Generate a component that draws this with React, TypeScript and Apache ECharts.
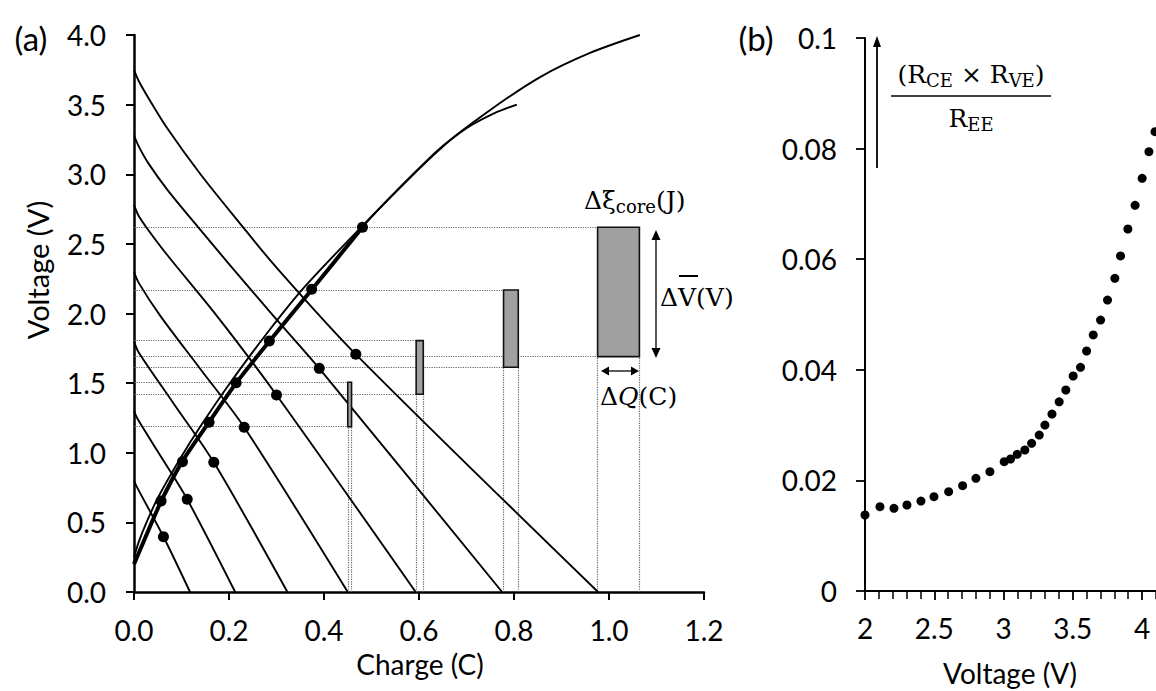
import { useEffect, useRef } from "react";
import * as echarts from "echarts";

// ---------- Panel (a): charge / discharge curves (Charge C, Voltage V) ----------
const discharge1 = [[0, 0.8], [0.006, 0.755], [0.062, 0.397], [0.118, 0]];
const discharge2 = [[0, 1.3], [0.008, 1.24], [0.06, 0.955], [0.112, 0.666], [0.213, 0]];
const discharge3 = [[0, 1.8], [0.01, 1.72], [0.08, 1.37], [0.168, 0.931], [0.323, 0]];
const discharge4 = [[0, 2.3], [0.01, 2.22], [0.055, 1.985], [0.14, 1.6], [0.232, 1.183], [0.45, 0]];
const discharge5 = [[0, 2.78], [0.01, 2.7], [0.03, 2.6], [0.07, 2.42], [0.174, 1.985], [0.3, 1.415], [0.593, 0]];
const discharge6 = [[0, 3.28], [0.01, 3.2], [0.03, 3.08], [0.07, 2.89], [0.135, 2.62], [0.21, 2.315], [0.293, 1.985], [0.39, 1.606], [0.775, 0]];
const discharge7 = [[0, 3.75], [0.01, 3.67], [0.03, 3.55], [0.07, 3.33], [0.14, 3.0], [0.22, 2.66], [0.3, 2.33], [0.467, 1.707], [0.977, 0]];
const dischargeCurves = [discharge1, discharge2, discharge3, discharge4, discharge5, discharge6, discharge7];

// charge curve to 4.0 V (thin)
const chargeTo4 = [[0, 0.25], [0.01, 0.36], [0.027, 0.505], [0.05, 0.675], [0.097, 0.957], [0.14, 1.19], [0.2, 1.49], [0.28, 1.858], [0.36, 2.194], [0.48, 2.626], [0.55, 2.871], [0.644, 3.186], [0.75, 3.462], [0.855, 3.698], [0.96, 3.871], [1.065, 4.0]];
// common (overlapping) charge path, drawn thick
const chargeCommon = [[0, 0.2], [0.02, 0.36], [0.057, 0.65], [0.102, 0.94], [0.158, 1.22], [0.215, 1.5], [0.285, 1.8], [0.374, 2.17], [0.481, 2.62]];
// charge curve to 3.5 V (thin continuation)
const chargeTo35 = [[0, 0.2], [0.02, 0.36], [0.057, 0.65], [0.102, 0.94], [0.158, 1.22], [0.215, 1.5], [0.285, 1.8], [0.374, 2.17], [0.481, 2.62], [0.55, 2.87], [0.644, 3.18], [0.7, 3.33], [0.76, 3.44], [0.806, 3.5]];

const chargeDots = [[0.057, 0.653], [0.102, 0.936], [0.158, 1.219], [0.215, 1.503], [0.285, 1.802], [0.374, 2.174], [0.481, 2.619]];
const dischargeDots = [[0.062, 0.397], [0.112, 0.666], [0.168, 0.931], [0.232, 1.183], [0.3, 1.415], [0.39, 1.606], [0.467, 1.707]];

// energy rectangles: ΔQ from left to right, ΔV from bottom to top
const rectQLeft = [0.45, 0.594, 0.778, 0.976];
const rectQRight = [0.458, 0.609, 0.809, 1.064];
const rectVBottom = [1.187, 1.42, 1.614, 1.69];
const rectVTop = [1.506, 1.805, 2.169, 2.619];

// ---------- Panel (b): (R_CE × R_VE)/R_EE vs Voltage ----------
const voltageB = [2.0, 2.108, 2.209, 2.303, 2.404, 2.498, 2.604, 2.705, 2.801, 2.902, 3.005, 3.051, 3.099, 3.154, 3.203, 3.258, 3.299, 3.35, 3.402, 3.45, 3.503, 3.556, 3.6, 3.648, 3.701, 3.751, 3.804, 3.845, 3.898, 3.95, 4.001, 4.05, 4.094, 4.14];
const ratioB = [0.01374, 0.01525, 0.01495, 0.01555, 0.01627, 0.01705, 0.01796, 0.01905, 0.02037, 0.02158, 0.02338, 0.02387, 0.02472, 0.0255, 0.0267, 0.0282, 0.03, 0.032, 0.0342, 0.03635, 0.03888, 0.04045, 0.0434, 0.0463, 0.049, 0.0526, 0.05655, 0.0606, 0.06546, 0.06974, 0.07463, 0.07944, 0.08306, 0.0875];

const FONT = "Lato";
const SERIF = "DejaVu Serif";

export default function App() {
  const ref = useRef<HTMLDivElement>(null);

  useEffect(() => {
    if (!ref.current) return;
    const chart = echarts.init(ref.current, undefined, { renderer: "svg" });

    const segs: number[][][] = [];
    for (let i = 0; i < rectQLeft.length; i++) {
      segs.push([[0, rectVTop[i]], [rectQLeft[i], rectVTop[i]]]);
      segs.push([[0, rectVBottom[i]], [rectQLeft[i], rectVBottom[i]]]);
      segs.push([[rectQLeft[i], 0], [rectQLeft[i], rectVBottom[i]]]);
      segs.push([[rectQRight[i], 0], [rectQRight[i], rectVBottom[i]]]);
    }

    const axisLabelStyle = { fontFamily: FONT, fontSize: 28, color: "#000" };
    const curveSeries = (data: number[][], width: number) => ({
      type: "line",
      xAxisIndex: 0,
      yAxisIndex: 0,
      data,
      showSymbol: false,
      symbol: "none",
      smooth: 0.3,
      lineStyle: { color: "#000", width },
      silent: true,
      z: 3,
    });
    const dotStyle = { color: "#000", opacity: 1 };
    const sub = { fontFamily: SERIF, fontSize: 18, lineHeight: 18, verticalAlign: "bottom", fill: "#000" };
    const main = { fontFamily: SERIF, fontSize: 25, lineHeight: 30, fill: "#000" };

    const option: any = {
      animation: false,
      backgroundColor: "#fff",
      grid: [
        { left: 134, top: 35, width: 570, height: 557 },
        { left: 865, top: 38, width: 346.25, height: 553 },
      ],
      xAxis: [
        {
          gridIndex: 0, type: "value", min: 0, max: 1.2, interval: 0.2,
          axisLine: { show: true, onZero: false, lineStyle: { color: "#000", width: 2.5 } },
          axisTick: { show: true, length: 8, lineStyle: { color: "#000", width: 2 } },
          axisLabel: { ...axisLabelStyle, margin: 24, formatter: (v: number) => v.toFixed(1) },
          splitLine: { show: false },
        },
        {
          gridIndex: 1, type: "value", min: 2, max: 4.5, interval: 0.5,
          axisLine: { show: true, onZero: false, lineStyle: { color: "#000", width: 2 } },
          axisTick: { show: true, length: 9, lineStyle: { color: "#000", width: 1.8 } },
          minorTick: { show: true, splitNumber: 5, length: 8, lineStyle: { color: "#000", width: 1.5 } },
          axisLabel: { ...axisLabelStyle, margin: 23, formatter: (v: number) => (v > 4.01 ? "" : String(v)) },
          splitLine: { show: false },
        },
      ],
      yAxis: [
        {
          gridIndex: 0, type: "value", min: 0, max: 4, interval: 0.5,
          axisLine: { show: true, onZero: false, lineStyle: { color: "#000", width: 2.5 } },
          axisTick: { show: true, length: 8, lineStyle: { color: "#000", width: 2 } },
          axisLabel: { ...axisLabelStyle, margin: 28, formatter: (v: number) => v.toFixed(1) },
          splitLine: { show: false },
        },
        {
          gridIndex: 1, type: "value", min: 0, max: 0.1, interval: 0.02,
          axisLine: { show: true, onZero: false, lineStyle: { color: "#000", width: 2 } },
          axisTick: { show: true, length: 9, lineStyle: { color: "#000", width: 1.8 } },
          axisLabel: { ...axisLabelStyle, margin: 28 },
          splitLine: { show: false },
        },
      ],
      series: [
        {
          type: "lines",
          coordinateSystem: "cartesian2d",
          xAxisIndex: 0,
          yAxisIndex: 0,
          data: segs.map((s) => ({ coords: s })),
          lineStyle: { color: "#666", width: 1.2, type: "dotted", opacity: 1 },
          silent: true,
          z: 1,
        },
        ...dischargeCurves.map((c) => curveSeries(c, 1.9)),
        curveSeries(chargeTo4, 1.9),
        curveSeries(chargeTo35, 1.9),
        curveSeries(chargeCommon, 4),
        {
          type: "custom",
          xAxisIndex: 0,
          yAxisIndex: 0,
          data: rectQLeft.map((q, i) => [q, rectQRight[i], rectVBottom[i], rectVTop[i]]),
          encode: { x: [0, 1], y: [2, 3] },
          renderItem: (_p: any, api: any) => {
            const a = api.coord([api.value(0), api.value(3)]);
            const b = api.coord([api.value(1), api.value(2)]);
            return {
              type: "rect",
              shape: { x: a[0], y: a[1], width: b[0] - a[0], height: b[1] - a[1] },
              style: { fill: "#a0a0a0", stroke: "#111", lineWidth: 1.6 },
            };
          },
          silent: true,
          z: 4,
        },
        {
          type: "scatter", xAxisIndex: 0, yAxisIndex: 0, data: chargeDots,
          symbol: "circle", symbolSize: 11, itemStyle: dotStyle, silent: true, z: 5,
        },
        {
          type: "scatter", xAxisIndex: 0, yAxisIndex: 0, data: dischargeDots,
          symbol: "circle", symbolSize: 11, itemStyle: dotStyle, silent: true, z: 5,
        },
        {
          type: "scatter", xAxisIndex: 1, yAxisIndex: 1,
          data: voltageB.map((v, i) => [v, ratioB[i]]),
          symbol: "circle", symbolSize: 9, itemStyle: dotStyle, silent: true, z: 5,
        },
      ],
      graphic: [
        { type: "text", x: 31, y: 38, style: { text: "(a)", fontFamily: FONT, fontSize: 33, fill: "#000", align: "center", verticalAlign: "middle" } },
        { type: "text", x: 756, y: 38, style: { text: "(b)", fontFamily: FONT, fontSize: 33, fill: "#000", align: "center", verticalAlign: "middle" } },
        { type: "text", x: 37, y: 270, rotation: Math.PI / 2, style: { text: "Voltage (V)", fontFamily: FONT, fontSize: 29, fill: "#000", align: "center", verticalAlign: "middle" } },
        { type: "text", x: 420, y: 664, style: { text: "Charge (C)", fontFamily: FONT, fontSize: 28, fill: "#000", align: "center", verticalAlign: "middle" } },
        { type: "text", x: 1010, y: 673, style: { text: "Voltage (V)", fontFamily: FONT, fontSize: 28, fill: "#000", align: "center", verticalAlign: "middle" } },
        // Δξcore(J)
        {
          type: "text", x: 584, y: 200,
          style: { text: "{a|Δξ}{s|core}{a|(J)}", align: "left", verticalAlign: "middle", fill: "#000", rich: { a: main, s: sub } },
        },
        // vertical double arrow
        { type: "line", shape: { x1: 656, y1: 238, x2: 656, y2: 350 }, style: { stroke: "#000", lineWidth: 1.3 } },
        { type: "polygon", shape: { points: [[651.5, 240], [660.5, 240], [656, 230]] }, style: { fill: "#000" } },
        { type: "polygon", shape: { points: [[651.5, 348], [660.5, 348], [656, 358]] }, style: { fill: "#000" } },
        // ΔV(V) with overline
        { type: "text", x: 660, y: 297, style: { text: "ΔV(V)", fontFamily: SERIF, fontSize: 25, fill: "#000", align: "left", verticalAlign: "middle" } },
        { type: "line", shape: { x1: 679, y1: 276, x2: 698, y2: 276 }, style: { stroke: "#000", lineWidth: 2 } },
        // horizontal double arrow
        { type: "line", shape: { x1: 607, y1: 371, x2: 633, y2: 371 }, style: { stroke: "#000", lineWidth: 1.3 } },
        { type: "polygon", shape: { points: [[609, 366.5], [609, 375.5], [601, 371]] }, style: { fill: "#000" } },
        { type: "polygon", shape: { points: [[631, 366.5], [631, 375.5], [639, 371]] }, style: { fill: "#000" } },
        // ΔQ(C)
        {
          type: "text", x: 600, y: 396,
          style: {
            text: "{a|Δ}{i|Q}{a|(C)}", align: "left", verticalAlign: "middle", fill: "#000",
            rich: { a: main, i: { ...main, fontStyle: "italic" } },
          },
        },
        // panel (b) arrow
        { type: "line", shape: { x1: 877, y1: 168, x2: 877, y2: 45 }, style: { stroke: "#000", lineWidth: 1.8 } },
        { type: "polygon", shape: { points: [[873, 47], [881, 47], [877, 36]] }, style: { fill: "#000" } },
        // fraction
        {
          type: "text", x: 971, y: 74,
          style: { text: "{a|(R}{s|CE}{a| × R}{s|VE}{a|)}", align: "center", verticalAlign: "middle", fill: "#000", rich: { a: main, s: sub } },
        },
        { type: "line", shape: { x1: 891, y1: 96, x2: 1051, y2: 96 }, style: { stroke: "#000", lineWidth: 1.6 } },
        {
          type: "text", x: 971, y: 118,
          style: { text: "{a|R}{s|EE}", align: "center", verticalAlign: "middle", fill: "#000", rich: { a: main, s: sub } },
        },
      ],
    };

    chart.setOption(option);
    return () => chart.dispose();
  }, []);

  return (
    <div style={{ position: "absolute", left: 0, top: 0, width: 1156, height: 691, overflow: "hidden", background: "#fff" }}>
      <div ref={ref} style={{ width: 1240, height: 691 }} />
    </div>
  );
}
